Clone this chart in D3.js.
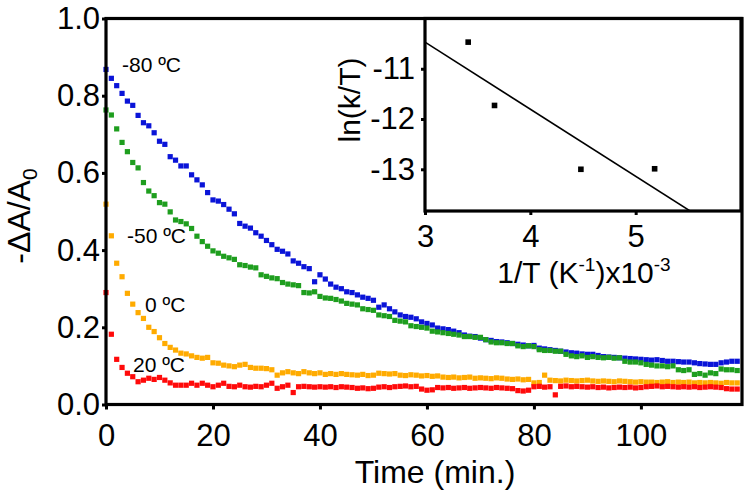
<!DOCTYPE html>
<html><head><meta charset="utf-8">
<script src="https://cdn.jsdelivr.net/npm/d3@7"></script>
<style>
html,body{margin:0;padding:0;background:#fff;}
svg{display:block;font-family:"Liberation Sans",Arial,sans-serif;}
</style></head>
<body><svg id="c" width="750" height="492"></svg>
<script>
// ---- data ----
const time = d3.range(0, 119); // minutes, 1-min sampling
const seriesNames = ["-80 ºC", "-50 ºC", "0 ºC", "20 ºC"];
const blue = [.868,.845,.826,.806,.786,.775,.749,.730,.722,.704,
.682,.674,.642,.633,.618,.618,.595,.582,.569,.549,
.530,.527,.518,.506,.494,.469,.462,.457,.445,.436,
.425,.414,.402,.397,.390,.372,.366,.357,.352,.318,
.336,.325,.312,.304,.300,.292,.290,.284,.278,.275,
.270,.252,.258,.248,.240,.232,.228,.226,.222,.214,
.210,.206,.198,.196,.194,.190,.186,.180,.177,.176,
.172,.168,.166,.163,.162,.160,.158,.156,.154,.152,
.153,.146,.144,.142,.140,.138,.136,.134,.133,.131,
.130,.130,.127,.124,.123,.122,.121,.120,.119,.118,
.117,.116,.115,.116,.114,.112,.112,.111,.110,.110,
.108,.106,.105,.104,.104,.108,.110,.112,.112];
const green = [.763,.750,.714,.679,.655,.627,.613,.575,.553,.541,
.523,.519,.499,.478,.474,.468,.456,.436,.422,.410,
.398,.392,.384,.380,.376,.362,.360,.356,.354,.336,
.332,.328,.326,.316,.312,.310,.308,.290,.289,.292,
.280,.276,.275,.272,.268,.262,.260,.258,.248,.246,
.244,.232,.230,.228,.218,.216,.214,.204,.202,.200,
.198,.190,.188,.186,.184,.182,.180,.176,.176,.174,
.174,.168,.162,.160,.160,.158,.158,.152,.150,.152,
.150,.142,.140,.140,.138,.138,.130,.126,.124,.126,
.122,.124,.122,.121,.122,.120,.121,.112,.110,.110,
.108,.104,.102,.100,.100,.098,.100,.090,.088,.090,
.078,.080,.076,.082,.080,.092,.090,.090,.088];
const orange = [.519,.437,.366,.331,.288,.260,.238,.223,.200,.189,
.173,.158,.148,.141,.133,.131,.126,.122,.120,.122,
.108,.107,.102,.100,.098,.102,.104,.096,.094,.094,
.093,.090,.076,.082,.085,.082,.080,.085,.082,.080,
.082,.078,.080,.078,.080,.078,.077,.076,.078,.075,
.076,.081,.080,.079,.080,.076,.075,.077,.076,.074,
.075,.073,.074,.071,.070,.071,.069,.070,.071,.068,
.069,.068,.067,.069,.068,.066,.065,.066,.064,.065,
.056,.057,.076,.063,.062,.061,.063,.062,.061,.062,
.063,.061,.060,.061,.060,.059,.061,.060,.059,.058,
.059,.058,.058,.057,.058,.059,.057,.058,.057,.058,
.056,.057,.056,.057,.056,.055,.057,.056,.056];
const red = [.290,.182,.117,.096,.081,.072,.059,.063,.068,.065,
.070,.063,.056,.050,.050,.050,.055,.050,.055,.050,
.046,.050,.055,.047,.046,.050,.046,.045,.047,.046,
.050,.055,.042,.046,.050,.031,.046,.047,.046,.045,
.046,.045,.046,.044,.046,.045,.044,.042,.043,.041,
.042,.045,.046,.044,.046,.047,.048,.046,.047,.040,
.037,.038,.044,.043,.044,.042,.043,.044,.042,.043,
.044,.043,.042,.044,.043,.042,.041,.036,.035,.037,
.046,.047,.045,.046,.025,.047,.048,.046,.047,.046,
.045,.046,.044,.045,.043,.044,.045,.044,.045,.043,
.044,.046,.047,.048,.046,.047,.046,.045,.046,.045,
.046,.044,.045,.046,.045,.044,.041,.040,.040];
const xTicks = [0, 20, 40, 60, 80, 100];
const yTicks = [0, 0.2, 0.4, 0.6, 0.8, 1.0];
// inset (Eyring plot)
const invT = [3.41, 3.66, 4.48, 5.18];
const lnkT = [-10.47, -11.73, -13.00, -12.99];
const insetXTicks = [3, 4, 5];
const insetYTicks = [-11, -12, -13];

// ---- styles / layout ----
const colors = ["#0a14d8", "#1e9e1e", "#ffab00", "#ff0a0a"];
const labelPos = [[122, 72], [127, 243], [145, 312], [133, 372]];
const svg = d3.select("#c");
const x = d3.scaleLinear().domain([0, 118.9]).range([106, 742]);
const y = d3.scaleLinear().domain([0, 1]).range([404.5, 18.5]);
const TF = 31;
const hyph = d => String(d);

// data points
const all = [blue, green, orange, red];
all.forEach((vals, i) => {
  svg.append("g").selectAll("rect").data(vals).join("rect")
    .attr("x", (d, j) => x(time[j]) - 2.6)
    .attr("y", d => y(d) - 2.6)
    .attr("width", 5.2).attr("height", 5.2)
    .attr("fill", colors[i]);
});

// axes
const gx = svg.append("g").attr("transform", `translate(0,${y(0)})`)
  .call(d3.axisBottom(x).tickValues(xTicks).tickFormat(hyph).tickSize(5).tickPadding(14));
const gy = svg.append("g").attr("transform", `translate(${x(0)},0)`)
  .call(d3.axisLeft(y).tickValues(yTicks).tickFormat(d3.format(".1f")).tickSize(4).tickPadding(2));
[gx, gy].forEach(g => {
  g.select(".domain").remove();
  g.selectAll(".tick line").attr("stroke", "#000").attr("stroke-width", 3);
  g.selectAll(".tick text").attr("font-size", TF).attr("font-family", "Liberation Sans, Arial").attr("fill", "#000");
});
svg.append("rect").attr("x", x(0)).attr("y", y(1)).attr("width", x(118.9) - x(0)).attr("height", y(0) - y(1))
  .attr("fill", "none").attr("stroke", "#000").attr("stroke-width", 3.2);

// series labels
seriesNames.forEach((n, i) => {
  svg.append("text").attr("x", labelPos[i][0]).attr("y", labelPos[i][1])
    .attr("font-size", 21).text(n);
});

// axis titles
svg.append("text").attr("x", 435).attr("y", 483).attr("text-anchor", "middle")
  .attr("font-size", 32).text("Time (min.)");
const yl = svg.append("text").attr("transform", "translate(30,216) rotate(-90)")
  .attr("text-anchor", "middle").attr("font-size", 32);
yl.append("tspan").text("-ΔA/A");
yl.append("tspan").attr("font-size", 21).attr("dy", 7).text("0");

// ---- inset ----
const xi = d3.scaleLinear().domain([3, 6]).range([425, 741]);
const yi = d3.scaleLinear().domain([-13.83, -10]).range([211, 18.5]);
svg.append("rect").attr("x", xi(3)).attr("y", yi(-10)).attr("width", xi(6) - xi(3)).attr("height", yi(-13.83) - yi(-10))
  .attr("fill", "#fff");
svg.append("clipPath").attr("id", "ic").append("rect")
  .attr("x", xi(3)).attr("y", yi(-10)).attr("width", xi(6) - xi(3)).attr("height", yi(-13.83) - yi(-10));
// least squares fit
const mx = d3.mean(invT), my = d3.mean(lnkT);
const slope = d3.sum(invT, (v, i) => (v - mx) * (lnkT[i] - my)) / d3.sum(invT, v => (v - mx) ** 2);
const icpt = my - slope * mx;
svg.append("line").attr("clip-path", "url(#ic)")
  .attr("x1", xi(3)).attr("y1", yi(icpt + slope * 3))
  .attr("x2", xi(6)).attr("y2", yi(icpt + slope * 6))
  .attr("stroke", "#000").attr("stroke-width", 1.6);
svg.append("g").selectAll("rect").data(invT).join("rect")
  .attr("x", (d) => xi(d) - 2.8).attr("y", (d, i) => yi(lnkT[i]) - 2.8)
  .attr("width", 5.6).attr("height", 5.6).attr("fill", "#000");
const gxi = svg.append("g").attr("transform", `translate(0,${yi(-13.83)})`)
  .call(d3.axisBottom(xi).tickValues(insetXTicks).tickFormat(hyph).tickSize(4).tickPadding(10));
const gyi = svg.append("g").attr("transform", `translate(${xi(3)},0)`)
  .call(d3.axisLeft(yi).tickValues(insetYTicks).tickFormat(hyph).tickSize(4).tickPadding(6));
[gxi, gyi].forEach(g => {
  g.select(".domain").remove();
  g.selectAll(".tick line").attr("stroke", "#000").attr("stroke-width", 3);
  g.selectAll(".tick text").attr("font-size", TF).attr("font-family", "Liberation Sans, Arial").attr("fill", "#000");
});
svg.append("rect").attr("x", xi(3)).attr("y", yi(-10)).attr("width", xi(6) - xi(3)).attr("height", yi(-13.83) - yi(-10))
  .attr("fill", "none").attr("stroke", "#000").attr("stroke-width", 3.2);
const xt = svg.append("text").attr("x", 584).attr("y", 283).attr("text-anchor", "middle").attr("font-size", 30);
xt.append("tspan").text("1/T (K");
xt.append("tspan").attr("font-size", 19).attr("dy", -12).text("-1");
xt.append("tspan").attr("dy", 12).text(")x10");
xt.append("tspan").attr("font-size", 19).attr("dy", -12).text("-3");
svg.append("text").attr("transform", "translate(360,100) rotate(-90)").attr("text-anchor", "middle")
  .attr("font-size", 30).text("ln(k/T)");
</script></body></html>
